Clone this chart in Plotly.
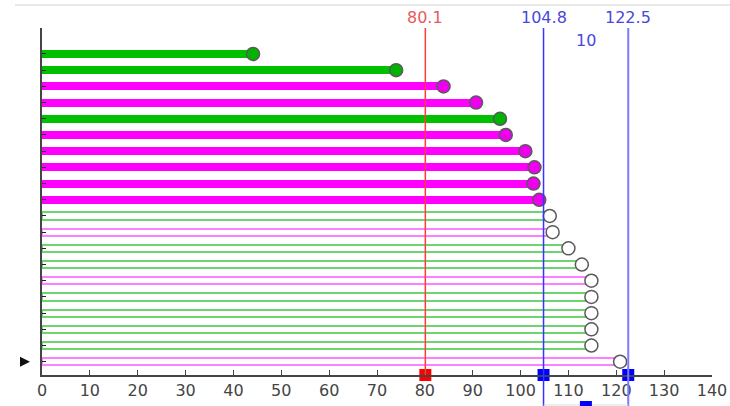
import plotly.graph_objects as go

# Row values (top to bottom), colour group and whether the bar is solid
values = [44.1, 74.0, 83.9, 90.7, 95.7, 96.9, 101.0, 102.9, 102.7, 103.9,
          106.1, 106.7, 110.0, 112.8, 114.8, 114.8, 114.8, 114.8, 114.8, 120.8]
groups = ["g", "g", "m", "m", "g", "m", "m", "m", "m", "m",
          "g", "m", "g", "g", "m", "g", "g", "g", "g", "m"]
solid = [True] * 10 + [False] * 10
rows = list(range(1, len(values) + 1))

# Reference lines along the x axis
red_line = 80.1
blue_lines = [104.8, 122.5]
span_label = "10"
pointer_row = 20

x_ticks = list(range(0, 141, 10))

SOLID = {"g": "#00c000", "m": "#ff00ff"}
HOLLOW = {"g": "#6fd46f", "m": "#ff80ff"}
DOT = {"g": "#00b400", "m": "#ee00ee"}

bar_fill = [SOLID[g] if s else "rgba(0,0,0,0)" for g, s in zip(groups, solid)]
bar_line = [SOLID[g] if s else HOLLOW[g] for g, s in zip(groups, solid)]
bar_lw = [0 if s else 2 for s in solid]
bar_w = [0.5 if s else 0.44 for s in solid]
dot_fill = [DOT[g] if s else "white" for g, s in zip(groups, solid)]

# plot-area geometry (rows 1..20 plus padding)
y_top, y_bot = -0.605, 20.82
plot_w = 730 - 42 - 18
plot_h = 406 - 28 - 31

fig = go.Figure()
fig.add_trace(go.Bar(
    x=values, y=rows, orientation="h", base=0, width=bar_w,
    marker=dict(color=bar_fill, line=dict(color=bar_line, width=bar_lw)),
    hoverinfo="skip",
))
fig.add_trace(go.Scatter(
    x=values, y=rows, mode="markers",
    marker=dict(size=13, color=dot_fill, line=dict(color="#5a5a5a", width=1.5)),
    hoverinfo="skip",
))

mid = (blue_lines[0] + blue_lines[1]) / 2
# squares sitting on the x axis at each reference line
fig.add_trace(go.Scatter(
    x=[red_line] + blue_lines,
    y=[y_bot] * 3,
    mode="markers", cliponaxis=False,
    marker=dict(symbol="square", size=12,
                color=["#ff0000", "#0000ff", "#0000ff"]),
    hoverinfo="skip",
))

below = -31 / plot_h

shapes = [
    dict(type="line", xref="x", yref="paper", x0=red_line, x1=red_line,
         y0=0, y1=1, line=dict(color="#ff3b3b", width=1.5), layer="above"),
    dict(type="line", xref="x", yref="paper", x0=blue_lines[0], x1=blue_lines[0],
         y0=below, y1=1, line=dict(color="#3535ff", width=1.5), layer="above"),
    dict(type="line", xref="x", yref="paper", x0=blue_lines[1], x1=blue_lines[1],
         y0=below, y1=1, line=dict(color="#7b7bff", width=2), layer="above"),
    dict(type="line", xref="x", yref="paper", x0=blue_lines[0], x1=blue_lines[1],
         y0=-30 / plot_h, y1=-30 / plot_h, line=dict(color="#dddddd", width=1)),
    # thin frame rule across the top
    dict(type="line", xref="paper", yref="paper", x0=-27 / plot_w, x1=688 / plot_w,
         y0=370 / plot_h, y1=370 / plot_h, line=dict(color="#e2e2e2", width=1.5)),
    # square below the axis between the two blue lines
    dict(type="rect", xref="x", yref="paper", xsizemode="pixel", ysizemode="pixel",
         xanchor=mid, yanchor=-32 / plot_h, x0=-6, x1=6, y0=-6, y1=6,
         fillcolor="#0000ff", line=dict(width=0), layer="above"),
    # pointer at the current row
    dict(type="path", xref="paper", yref="y", xsizemode="pixel", ysizemode="pixel",
         xanchor=-17 / plot_w, yanchor=pointer_row,
         path="M -5 5 L 5 0 L -5 -5 Z",
         fillcolor="#111111", line=dict(width=0), layer="above"),
]

label_y = (375 - 18) / plot_h
annotations = [
    dict(x=red_line, y=label_y, xref="x", yref="paper", text=f"{red_line}",
         showarrow=False, yanchor="middle", font=dict(size=16, color="#e85a5a")),
    dict(x=blue_lines[0], y=label_y, xref="x", yref="paper", text=f"{blue_lines[0]}",
         showarrow=False, yanchor="middle", font=dict(size=16, color="#4848dc")),
    dict(x=blue_lines[1], y=label_y, xref="x", yref="paper", text=f"{blue_lines[1]}",
         showarrow=False, yanchor="middle", font=dict(size=16, color="#4848dc")),
    dict(x=mid, y=(375 - 40) / plot_h, xref="x", yref="paper", text=span_label,
         showarrow=False, yanchor="middle", font=dict(size=16, color="#4848dc")),
]

fig.update_layout(
    width=730, height=406,
    margin=dict(l=42, r=18, t=28, b=31, autoexpand=False),
    paper_bgcolor="white", plot_bgcolor="white",
    showlegend=False, bargap=0,
    font=dict(family="DejaVu Sans", color="#444"),
    shapes=shapes, annotations=annotations,
    xaxis=dict(range=[0, 140], tickvals=x_ticks, ticks="inside", ticklen=5,
               tickcolor="#444", showline=True, linecolor="#444", linewidth=1.5,
               showgrid=False, zeroline=False, automargin=False,
               tickfont=dict(size=16, color="#444")),
    yaxis=dict(range=[y_bot, y_top], tickvals=rows, ticks="inside", ticklen=4,
               tickcolor="#222", showticklabels=False, showline=True,
               linecolor="#444", linewidth=1.5, showgrid=False, zeroline=False,
               automargin=False),
)

fig.write_html("out.html")
